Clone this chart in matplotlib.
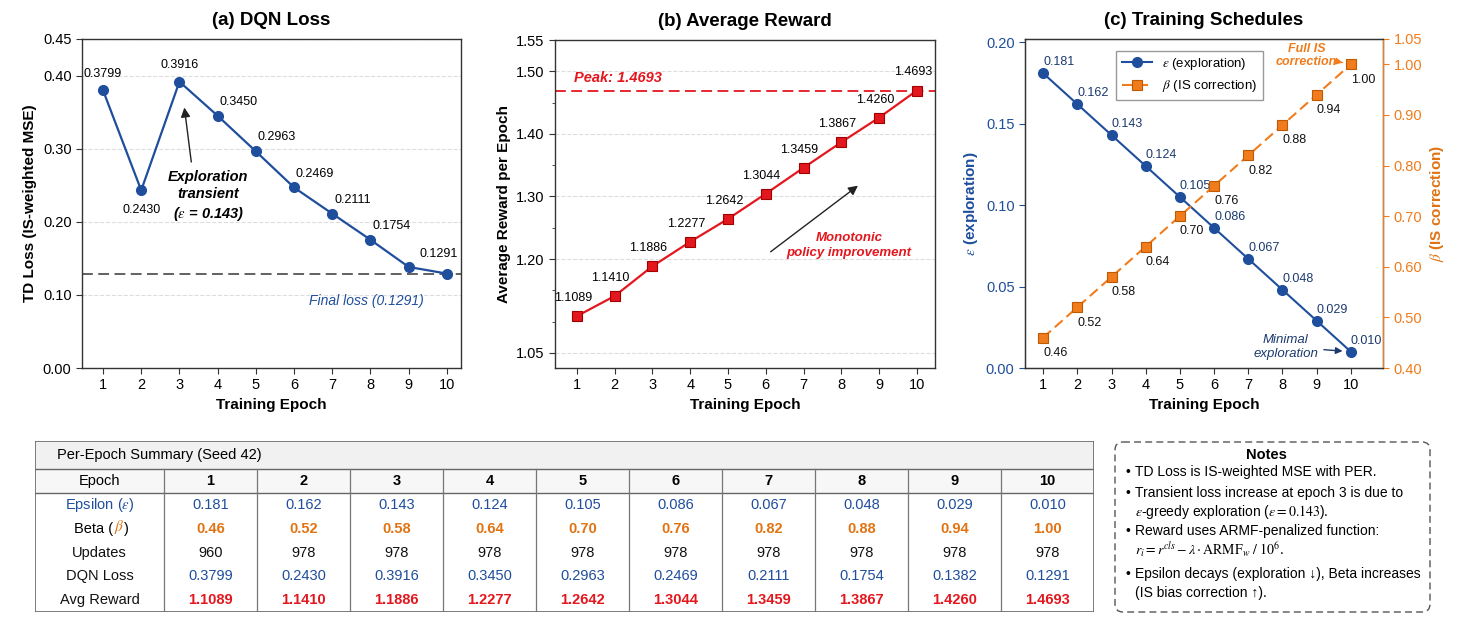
import matplotlib
matplotlib.use('Agg')
import matplotlib.pyplot as plt
from matplotlib.patches import Rectangle, FancyBboxPatch

plt.rcParams['font.family'] = ['Liberation Sans', 'DejaVu Sans']
plt.rcParams['mathtext.fontset'] = 'stix'

# data (seed 42 run)
epochs = [1, 2, 3, 4, 5, 6, 7, 8, 9, 10]
epsilon = [0.181, 0.162, 0.143, 0.124, 0.105, 0.086, 0.067, 0.048, 0.029, 0.010]
beta = [0.46, 0.52, 0.58, 0.64, 0.70, 0.76, 0.82, 0.88, 0.94, 1.00]
updates = [960, 978, 978, 978, 978, 978, 978, 978, 978, 978]
dqn_loss = [0.3799, 0.2430, 0.3916, 0.3450, 0.2963, 0.2469, 0.2111, 0.1754, 0.1382, 0.1291]
avg_reward = [1.1089, 1.1410, 1.1886, 1.2277, 1.2642, 1.3044, 1.3459, 1.3867, 1.4260, 1.4693]

BLUE = '#1f4e9c'
NAVY = '#1c3a6e'
RED = '#e3171e'
ORANGE = '#f07c1c'
TORANGE = '#e07312'
SPINE = '#333333'

W, H = 1465, 622


def box(l, t, r, b):
    # pixel box -> figure fraction
    return [l / W, 1 - b / H, (r - l) / W, (b - t) / H]


fig = plt.figure(figsize=(W / 100, H / 100), dpi=100)


def style_axes(ax):
    for s in ax.spines.values():
        s.set_color(SPINE)
        s.set_linewidth(1.0)
    ax.tick_params(labelsize=10.5, length=4, color=SPINE)
    ax.set_xticks(epochs)
    ax.set_xlabel('Training Epoch', fontsize=11, fontweight='bold')


# ---------------- (a) DQN loss ----------------
ax1 = fig.add_axes(box(82, 39, 461, 368))
style_axes(ax1)
ax1.plot(epochs, dqn_loss, '-o', color=BLUE, lw=1.6, ms=7, zorder=3)
ax1.set_xlim(0.45, 10.37)
ax1.set_ylim(0, 0.45)
ax1.set_yticks([0.0, 0.1, 0.2, 0.3, 0.4, 0.45])
ax1.set_yticklabels(['0.00', '0.10', '0.20', '0.30', '0.40', '0.45'])
ax1.grid(axis='y', ls='--', color='#dddddd', lw=0.8)
ax1.set_axisbelow(True)
ax1.set_ylabel('TD Loss (IS-weighted MSE)', fontsize=11, fontweight='bold')
ax1.set_title('(a) DQN Loss', fontsize=13.5, fontweight='bold', pad=10)

offs_a = {0: (0, 12), 1: (0, -14), 2: (0, 12), 3: (15, 10), 4: (15, 10),
          5: (15, 10), 6: (15, 10), 7: (15, 10), 9: (-6, 14)}
for i, (o1, o2) in offs_a.items():
    ax1.annotate(f'{dqn_loss[i]:.4f}', (epochs[i], dqn_loss[i]), xytext=(o1, o2),
                 textcoords='offset points', ha='center', va='center', fontsize=9)

ax1.axhline(dqn_loss[-1], color='#555555', ls='--', lw=1.3, dashes=(6, 3), zorder=2)
ax1.text(7.9, dqn_loss[-1] - 0.037, f'Final loss ({dqn_loss[-1]:.4f})', color=BLUE,
         fontsize=10, fontstyle='italic', ha='center', va='center')
ax1.text(3.75, 0.235, 'Exploration\ntransient\n' + r'($\varepsilon$ = 0.143)',
         fontsize=10.5, fontstyle='italic', fontweight='bold', ha='center', va='center',
         linespacing=1.3)
ax1.annotate('', xy=(3.12, 0.36), xytext=(3.32, 0.278),
             arrowprops=dict(arrowstyle='-|>', color='#222222', lw=1, mutation_scale=14))

# ---------------- (b) Average reward ----------------
ax2 = fig.add_axes(box(555, 40, 935, 368))
style_axes(ax2)
ax2.plot(epochs, avg_reward, '-s', color=RED, lw=1.6, ms=7.5, mfc=RED, mec='#a00000',
         mew=0.8, zorder=3)
ax2.set_xlim(0.42, 10.48)
ax2.set_ylim(1.026, 1.55)
ax2.set_yticks([1.05, 1.20, 1.30, 1.40, 1.50, 1.55])
ax2.set_yticks([1.10, 1.15, 1.25, 1.35, 1.45], minor=True)
ax2.tick_params(axis='y', which='minor', length=2.5, color=SPINE)
ax2.grid(axis='y', which='major', ls='--', color='#dddddd', lw=0.8)
ax2.set_axisbelow(True)
ax2.set_ylabel('Average Reward per Epoch', fontsize=11, fontweight='bold')
ax2.set_title('(b) Average Reward', fontsize=13.5, fontweight='bold', pad=10)

for x, y in zip(epochs, avg_reward):
    ax2.annotate(f'{y:.4f}', (x, y), xytext=(-3, 13), textcoords='offset points',
                 ha='center', va='center', fontsize=9)

peak = max(avg_reward)
ax2.axhline(peak, color=RED, ls='--', lw=1.3, dashes=(6, 3), zorder=2)
ax2.text(0.92, peak + 0.02, f'Peak: {peak:.4f}', color=RED, fontsize=10.5,
         fontstyle='italic', fontweight='bold', ha='left', va='center')
ax2.annotate('', xy=(8.5, 1.32), xytext=(6.07, 1.209),
             arrowprops=dict(arrowstyle='-|>', color='#222222', lw=1, mutation_scale=14))
ax2.text(8.2, 1.222, 'Monotonic\npolicy improvement', color=RED, fontsize=9.5,
         fontstyle='italic', fontweight='bold', ha='center', va='center', linespacing=1.3)

# ---------------- (c) Training schedules ----------------
ax3 = fig.add_axes(box(1025, 39, 1383, 368))
style_axes(ax3)
ax3r = ax3.twinx()
l_eps, = ax3.plot(epochs, epsilon, '-o', color=BLUE, lw=1.5, ms=7, zorder=3)
l_beta, = ax3r.plot(epochs, beta, '--s', color=ORANGE, lw=1.5, ms=7, mfc=ORANGE,
                    mec='#c05a00', mew=0.8, dashes=(5, 2.5), zorder=3)
ax3.set_xlim(0.47, 10.94)
ax3.set_ylim(0, 0.202)
ax3.set_yticks([0.0, 0.05, 0.10, 0.15, 0.20])
ax3.set_yticklabels(['0.00', '0.05', '0.10', '0.15', '0.20'])
ax3.tick_params(axis='y', colors=BLUE)
ax3r.set_ylim(0.40, 1.05)
ax3r.set_yticks([0.40, 0.50, 0.60, 0.70, 0.80, 0.90, 1.00, 1.05])
ax3r.set_yticklabels(['0.40', '0.50', '0.60', '0.70', '0.80', '0.90', '1.00', '1.05'])
ax3r.tick_params(axis='y', colors=ORANGE, labelsize=10.5, length=4)
for s in ax3r.spines.values():
    s.set_color(SPINE)
ax3r.spines['right'].set_color(ORANGE)
ax3.set_ylabel(r'$\varepsilon$ (exploration)', fontsize=11, fontweight='bold', color=BLUE)
ax3r.set_ylabel(r'$\beta$ (IS correction)', fontsize=11, fontweight='bold', color=TORANGE)
ax3.set_title('(c) Training Schedules', fontsize=13.5, fontweight='bold', pad=10)

for x, y in zip(epochs, epsilon):
    ax3.annotate(f'{y:.3f}', (x, y), xytext=(0, 8), textcoords='offset points',
                 ha='left', va='center', fontsize=9, color=NAVY)
for x, y in zip(epochs, beta):
    ax3r.annotate(f'{y:.2f}', (x, y), xytext=(0, -11), textcoords='offset points',
                  ha='left', va='center', fontsize=9, color='#111111')

ax3r.annotate('Full IS\ncorrection', xy=(epochs[-1], beta[-1]), xytext=(8.7, 1.018),
              color=ORANGE, fontsize=9, fontstyle='italic', fontweight='bold',
              ha='center', va='center', linespacing=1.1,
              arrowprops=dict(arrowstyle='-|>', color=ORANGE, lw=1, shrinkB=6,
                              mutation_scale=10))
ax3.annotate('Minimal\nexploration', xy=(epochs[-1], epsilon[-1]), xytext=(8.1, 0.013),
             color=NAVY, fontsize=9.5, fontstyle='italic', ha='center', va='center',
             linespacing=1.2,
             arrowprops=dict(arrowstyle='-|>', color=NAVY, lw=1, shrinkB=6,
                             mutation_scale=10))

ax3r.legend([l_eps, l_beta], [r'$\varepsilon$ (exploration)', r'$\beta$ (IS correction)'],
            loc='upper center', bbox_to_anchor=(0.46, 0.965), fontsize=9.5,
            fancybox=False, edgecolor='#999999', framealpha=1, handlelength=2.3,
            borderaxespad=0)

# ---------------- summary table ----------------
tl, tt, tr, tb = 35, 441, 1094, 612
axt = fig.add_axes(box(tl, tt, tr, tb))
axt.set_xlim(tl, tr)
axt.set_ylim(tb, tt)
axt.axis('off')

first_w = 129
col_w = (tr - tl - first_w) / len(epochs)
row_title = (441, 469)
row_head = (469, 493)
row_h = (tb - row_head[1]) / 5

axt.add_patch(Rectangle((tl, row_title[0]), tr - tl, row_title[1] - row_title[0],
                        facecolor='#f1f1f1', edgecolor='none'))
axt.add_patch(Rectangle((tl, row_head[0]), tr - tl, row_head[1] - row_head[0],
                        facecolor='#f7f7f7', edgecolor='none'))
axt.add_patch(Rectangle((tl, tt), tr - tl, tb - tt, facecolor='none',
                        edgecolor='#666666', lw=1.2))
for y in [row_title[1], row_head[1]]:
    axt.plot([tl, tr], [y, y], color='#666666', lw=1)
for j in range(len(epochs)):
    x = tl + first_w + j * col_w
    axt.plot([x, x], [row_head[0], tb], color='#777777', lw=0.9)

axt.text(tl + 22, sum(row_title) / 2, 'Per-Epoch Summary (Seed 42)', fontsize=10.5,
         ha='left', va='center')
hy = sum(row_head) / 2
axt.text(tl + first_w / 2, hy, 'Epoch', fontsize=10.5, ha='center', va='center')
for j, e in enumerate(epochs):
    axt.text(tl + first_w + (j + 0.5) * col_w, hy, str(e), fontsize=10.5,
             fontweight='bold', ha='center', va='center')

rows = [
    ([f'{v:.3f}' for v in epsilon], BLUE),
    ([f'{v:.2f}' for v in beta], TORANGE),
    ([str(v) for v in updates], '#111111'),
    ([f'{v:.4f}' for v in dqn_loss], BLUE),
    ([f'{v:.4f}' for v in avg_reward], RED),
]
row_names = [r'Epsilon ($\varepsilon$)', None, 'Updates', 'DQN Loss', 'Avg Reward']
for i, (vals, col) in enumerate(rows):
    y = row_head[1] + (i + 0.5) * row_h
    if row_names[i] is not None:
        axt.text(tl + first_w / 2, y, row_names[i], fontsize=10.5, ha='center',
                 va='center', color=BLUE if i == 0 else '#111111')
    else:
        t1 = axt.text(tl + first_w / 2 - 25, y, 'Beta (', fontsize=10.5, ha='left',
                      va='center')
        t2 = axt.annotate(r'$\beta$', xy=(1, 0), xycoords=t1, ha='left', va='bottom',
                          fontsize=11, color=TORANGE)
        axt.annotate(')', xy=(1, 0), xycoords=t2, ha='left', va='bottom', fontsize=10.5)
    for j, v in enumerate(vals):
        axt.text(tl + first_w + (j + 0.5) * col_w, y, v, fontsize=10.5, ha='center',
                 va='center', color=col,
                 fontweight='bold' if col in (TORANGE, RED) else 'normal')

# ---------------- notes ----------------
nl, nt, nr, nb = 1113, 440, 1432, 614
axn = fig.add_axes(box(nl, nt, nr, nb))
axn.set_xlim(nl, nr)
axn.set_ylim(nb, nt)
axn.axis('off')
axn.add_patch(FancyBboxPatch((nl + 2, nt + 2), nr - nl - 4, nb - nt - 4,
                             boxstyle='round,pad=0,rounding_size=8', facecolor='white',
                             edgecolor='#555555', lw=1, ls=(0, (5, 3))))
axn.text((nl + nr) / 2 - 6, 455, 'Notes', fontsize=10.5, fontweight='bold',
         ha='center', va='center')
note_lines = [
    (472, True, 'TD Loss is IS-weighted MSE with PER.'),
    (493, True, 'Transient loss increase at epoch 3 is due to'),
    (512, False, r'$\varepsilon$-greedy exploration ($\varepsilon = 0.143$).'),
    (531, True, 'Reward uses ARMF-penalized function:'),
    (550, False, r'$r_i = r^{cls} - \lambda \cdot \mathrm{ARMF}_w\ /\ 10^6$.'),
    (574, True, 'Epsilon decays (exploration \u2193), Beta increases'),
    (593, False, '(IS bias correction \u2191).'),
]
for y, bullet, s in note_lines:
    if bullet:
        axn.text(1126, y, '\u2022', fontsize=10, ha='left', va='center')
    axn.text(1135, y, s, fontsize=10, ha='left', va='center')

fig.savefig('out.png', dpi=100)
